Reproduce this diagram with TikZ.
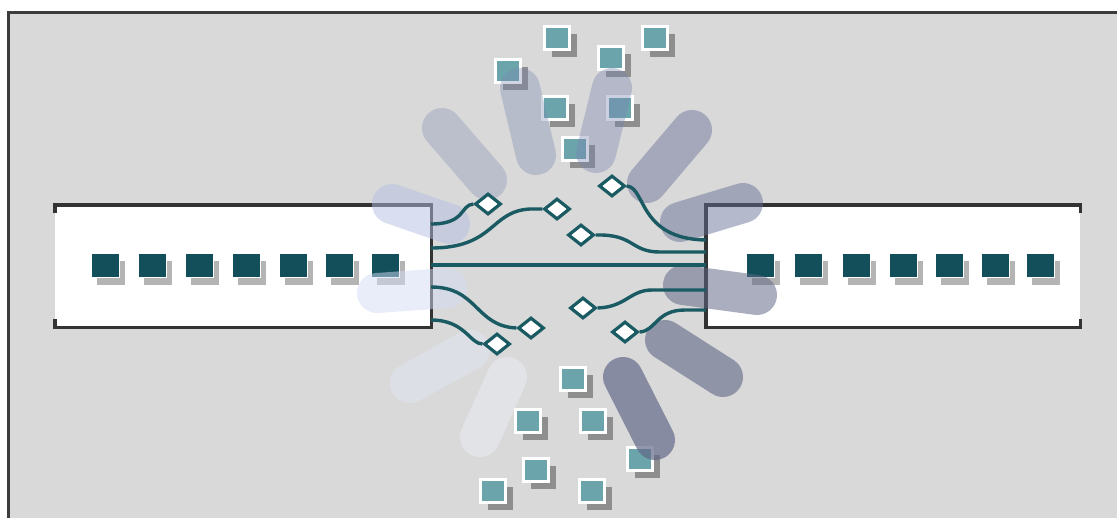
\documentclass[tikz,border=0pt]{standalone}
\usetikzlibrary{shapes.geometric,shadows}
\definecolor{bg}{HTML}{D9D9D9}
\definecolor{framec}{HTML}{3C3C3C}
\definecolor{boxc}{HTML}{333333}
\definecolor{darkteal}{HTML}{134F5A}
\definecolor{lightteal}{HTML}{6CA4AC}
\definecolor{wire}{HTML}{1A5A62}
\definecolor{shadowA}{HTML}{B4B4B4}
\definecolor{shadowB}{HTML}{8E8E8E}
\definecolor{petA}{RGB}{180,190,228}
\definecolor{petB}{RGB}{120,132,175}
\definecolor{petC}{RGB}{100,110,150}
\definecolor{petD}{RGB}{95,103,135}
\definecolor{petG}{RGB}{212,220,246}
\definecolor{petH}{RGB}{228,232,248}
\definecolor{petI}{RGB}{238,240,248}
\tikzset{
  boxfill/.style={rectangle, fill=white, draw=none, inner sep=0pt, anchor=north west},
  boxline/.style={draw=boxc, line width=3.5pt},
  dsq/.style={rectangle, fill=darkteal, draw=white, line width=0.8pt, minimum width=28pt, minimum height=24pt, inner sep=0pt,
    drop shadow={shadow xshift=6pt, shadow yshift=-8pt, fill=shadowA, opacity=1}},
  tsq/.style={rectangle, fill=lightteal, draw=white, line width=2.2pt, minimum width=25pt, minimum height=23pt, inner sep=0pt,
    drop shadow={shadow xshift=7pt, shadow yshift=-7pt, fill=shadowB, opacity=1}},
  dia/.style={diamond, draw=wire, fill=white, line width=3.2pt, minimum width=26pt, minimum height=21pt, inner sep=0pt},
  wireline/.style={draw=wire, line width=3.4pt},
  petal/.style 2 args={line width=40pt, line cap=round, draw=#1, draw opacity=#2},
}
\begin{document}
\begin{tikzpicture}[x=1pt,y=-1pt]
\useasboundingbox (0,0) rectangle (1117,517);
\fill[white] (0,0) rectangle (1117,517);
\fill[bg] (8,12) rectangle (1125,525);
\draw[framec, line width=3pt] (8,525) -- (8,12) -- (1125,12);

% boxes
\node[boxfill, minimum width=376pt, minimum height=122pt] (lbox) at (55,205) {};
\node[boxfill, minimum width=374pt, minimum height=122pt] (rbox) at (706,205) {};
\draw[boxline] ([yshift=-8pt]lbox.north west) -- (lbox.north west) -- (lbox.north east) -- (lbox.south east) -- (lbox.south west) -- ([yshift=8pt]lbox.south west);
\draw[boxline] ([yshift=-8pt]rbox.north east) -- (rbox.north east) -- (rbox.north west) -- (rbox.south west) -- (rbox.south east) -- ([yshift=8pt]rbox.south east);

% dark squares
\foreach \x [count=\i] in {105,152,199,246,293,339,385}
  \node[dsq] (ls\i) at (\x,265) {};
\foreach \x [count=\i] in {760,808,856,903,949,995,1040}
  \node[dsq] (rs\i) at (\x,265) {};

% light teal squares, top
\node[tsq] (t1) at (557,38) {};
\node[tsq] (t2) at (655,38) {};
\node[tsq] (t3) at (611,58) {};
\node[tsq] (t4) at (508,71) {};
\node[tsq] (t5) at (555,108) {};
\node[tsq] (t6) at (620,108) {};
\node[tsq] (t7) at (575,149) {};
% bottom
\node[tsq] (b1) at (573,379) {};
\node[tsq] (b2) at (528,421) {};
\node[tsq] (b3) at (593,421) {};
\node[tsq] (b4) at (640,459) {};
\node[tsq] (b5) at (536,470) {};
\node[tsq] (b6) at (493,491) {};
\node[tsq] (b7) at (592,491) {};

% petals
\draw[petal={petA}{.5}] (392,204) -- (450,224);
\draw[petal={petB}{.3}] (442,128) -- (487,180);
\draw[petal={petB}{.34}] (520,88) -- (536,155);
\draw[petal={petB}{.38}] (612,88) -- (596,153);
\draw[petal={petC}{.45}] (692,130) -- (647,183);
\draw[petal={petC}{.48}] (743,203) -- (680,222);
\draw[petal={petD}{.53}] (757,295) -- (683,285);
\draw[petal={petD}{.6}] (723,377) -- (665,340);
\draw[petal={petD}{.68}] (655,440) -- (623,377);
\draw[petal={petI}{.45}] (480,437) -- (507,377);
\draw[petal={petH}{.45}] (410,383) -- (470,350);
\draw[petal={petG}{.5}] (377,293) -- (447,288);

% connection points
\coordinate (L1) at (431,224);
\coordinate (L2) at (431,248);
\coordinate (L3) at (431,265);
\coordinate (L4) at (431,287);
\coordinate (L5) at (431,320);
\coordinate (R1) at (706,240);
\coordinate (R2) at (706,252);
\coordinate (R3) at (706,265);
\coordinate (R4) at (706,290);
\coordinate (R5) at (706,310);

% diamonds
\node[dia] (d1) at (488,204) {};
\node[dia] (d2) at (557,209) {};
\node[dia] (d3) at (612,186) {};
\node[dia] (d4) at (531,328) {};
\node[dia] (d5) at (497,344) {};
\node[dia] (d6) at (581,235) {};
\node[dia] (d7) at (583,308) {};
\node[dia] (d8) at (625,332) {};

% wires
\draw[wireline] (L3) -- (R3);
\draw[wireline] (L1) .. controls (466,224) and (460,205) .. (d1.west);
\draw[wireline] (L2) .. controls (495,248) and (490,211) .. (530,209) -- (d2.west);
\draw[wireline] (L4) .. controls (478,287) and (475,326) .. (d4.west);
\draw[wireline] (L5) .. controls (465,320) and (470,344) .. (d5.west);
\draw[wireline] (d3.east) .. controls (646,187) and (638,239) .. (R1);
\draw[wireline] (d6.east) .. controls (635,234) and (630,252) .. (660,252) -- (R2);
\draw[wireline] (d7.east) .. controls (626,307) and (630,290) .. (652,290) -- (R4);
\draw[wireline] (d8.east) .. controls (656,331) and (656,310) .. (685,310) -- (R5);
\end{tikzpicture}
\end{document}
